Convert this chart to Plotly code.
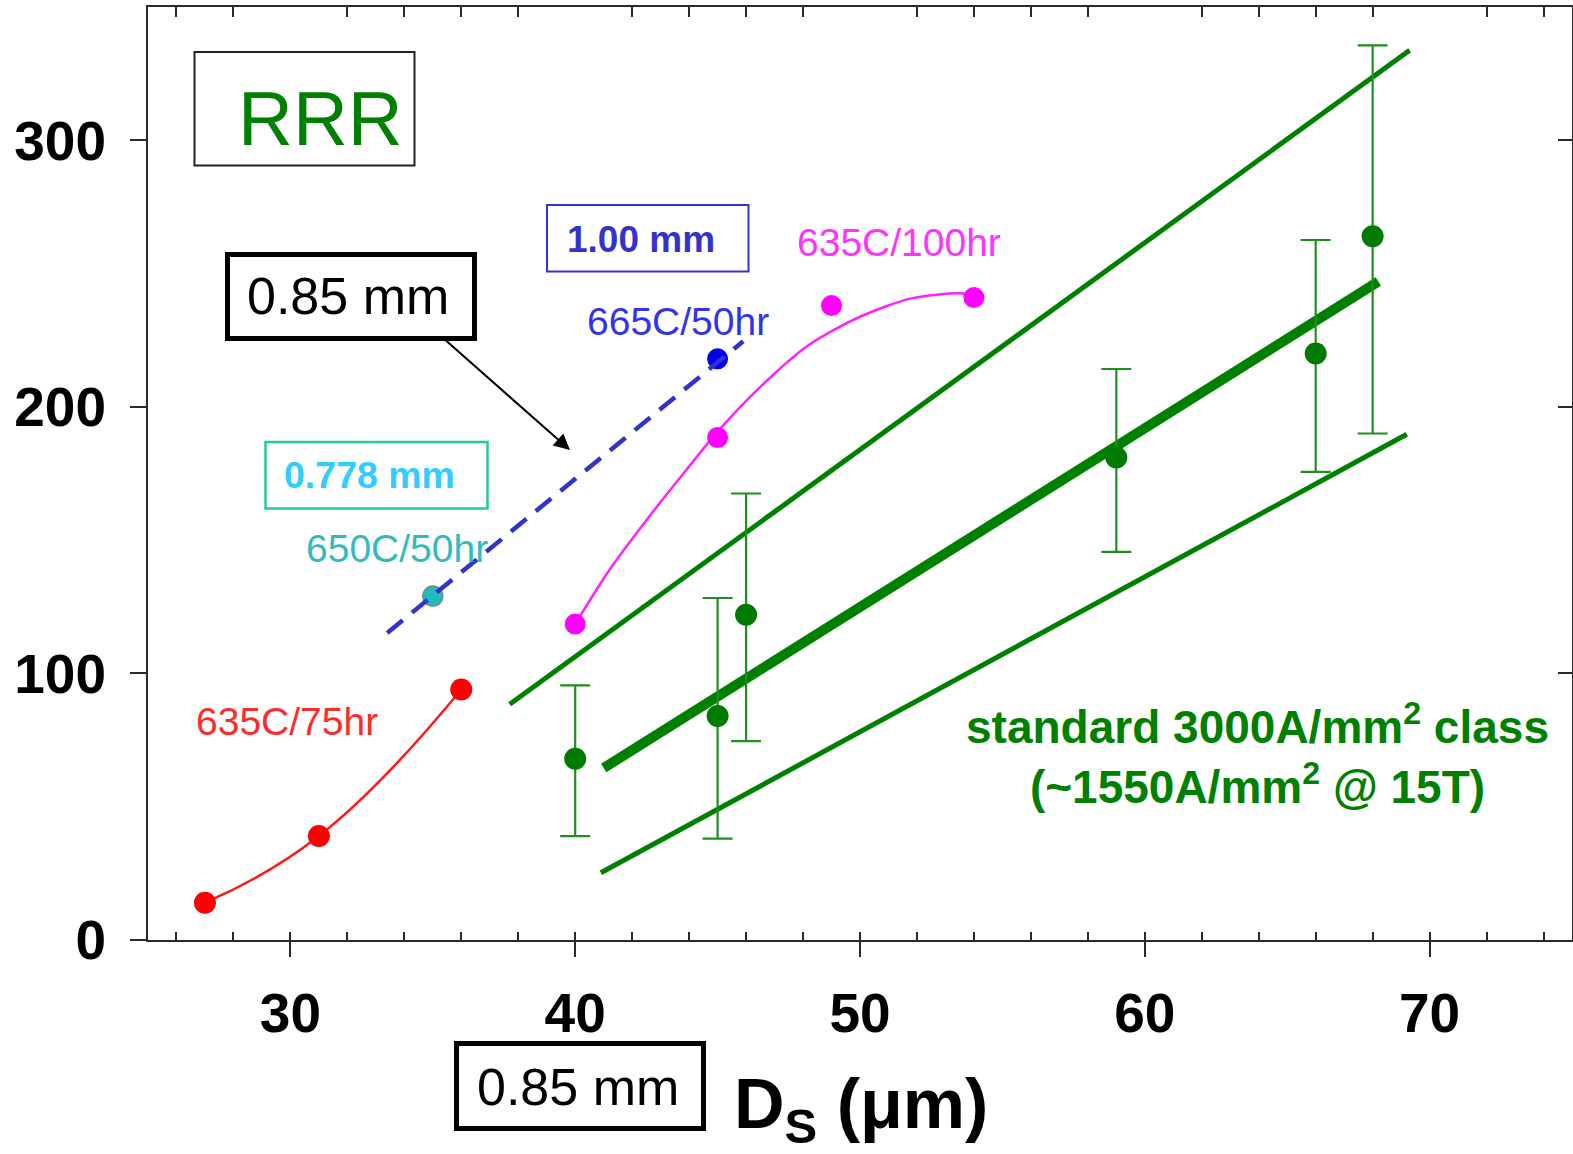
import plotly.graph_objects as go

# ---------------- data ----------------
red_x = [27, 31, 36]
red_y = [14, 39, 94]

cyan_x = [35]
cyan_y = [129]

blue_x = [45]
blue_y = [218]
blue_fit_x = [33.4, 45.9]
blue_fit_y = [115.2, 224.6]

mag_x = [40, 45, 49, 54]
mag_y = [118.5, 188.5, 238, 241]
mag_fit_x = [40, 41.2, 42.5, 43.9, 45, 46.5, 48.2, 50, 51.8, 53.5, 54]
mag_fit_y = [118.5, 138.8, 157.5, 176.3, 190.7, 207.5, 223.2, 233.8, 240.7, 242.6, 242]

green_x = [40, 45, 46, 59, 66, 68]
green_y = [68, 84, 122, 181, 220, 264]
green_err_plus = [27.5, 44.3, 45.5, 33.2, 42.6, 71.6]
green_err_minus = [29, 46, 47.4, 35.4, 44.4, 74]

band_upper_x = [37.7, 69.3]
band_upper_y = [88.4, 333.8]
band_mid_x = [41.0, 68.2]
band_mid_y = [64.5, 247.0]
band_lower_x = [40.9, 69.2]
band_lower_y = [25.2, 189.7]

x_range = [25, 75]
y_range = [0, 350]
top_minor_ticks = [26, 28, 32, 34, 36, 38, 42, 44, 46, 48, 52, 54, 56, 58,
                   62, 64, 66, 68, 72, 74]
right_ticks = [100, 200, 300]

# ---------------- figure ----------------
GREEN = "#008000"
FONT = "Liberation Sans"

fig = go.Figure()

for bx, by, w in [(band_upper_x, band_upper_y, 5),
                  (band_lower_x, band_lower_y, 5),
                  (band_mid_x, band_mid_y, 10)]:
    fig.add_trace(go.Scatter(x=bx, y=by, mode="lines",
                             line=dict(color=GREEN, width=w), hoverinfo="skip"))

fig.add_trace(go.Scatter(
    x=green_x, y=green_y, mode="markers",
    marker=dict(color="#007a00", size=22),
    error_y=dict(type="data", symmetric=False, array=green_err_plus,
                 arrayminus=green_err_minus, color="#1f8f1f",
                 thickness=2.2, width=15)))

fig.add_trace(go.Scatter(x=red_x, y=red_y, mode="lines+markers",
                         line=dict(color="#ff1a1a", width=2.5, shape="spline",
                                   smoothing=1.3),
                         marker=dict(color="#ff0000", size=22)))

fig.add_trace(go.Scatter(x=mag_fit_x, y=mag_fit_y, mode="lines",
                         line=dict(color="#ff22ff", width=2.5, shape="spline",
                                   smoothing=0.8)))
fig.add_trace(go.Scatter(x=mag_x, y=mag_y, mode="markers",
                         marker=dict(color="#ff00ff", size=21)))

fig.add_trace(go.Scatter(x=cyan_x, y=cyan_y, mode="markers",
                         marker=dict(color="#22bbbb", size=20,
                                     line=dict(color="#7a8a8a", width=1.5))))
fig.add_trace(go.Scatter(x=blue_x, y=blue_y, mode="markers",
                         marker=dict(color="#0000ee", size=21)))

fig.add_trace(go.Scatter(x=blue_fit_x, y=blue_fit_y, mode="lines",
                         line=dict(color="#3333cc", width=4.5, dash="20px,12px")))

# dummy trace for the top / right tick axes
fig.add_trace(go.Scatter(x=[None], y=[None], xaxis="x2", yaxis="y2",
                         mode="markers", hoverinfo="skip"))

AX = "#2a2a2a"
fig.update_layout(
    width=1573, height=1154,
    margin=dict(l=148, r=1, t=7, b=214, autoexpand=False),
    plot_bgcolor="white", paper_bgcolor="white",
    showlegend=False,
    xaxis=dict(range=x_range, tickmode="linear", tick0=0, dtick=10,
               automargin=False,
               ticks="outside", ticklen=15, tickwidth=2, tickcolor=AX,
               showline=True, linecolor=AX, linewidth=2, mirror=True,
               showgrid=False, zeroline=False, ticklabelstandoff=9,
               tickfont=dict(family=FONT, size=55, color="black", weight="bold"),
               minor=dict(ticks="inside", ticklen=8, tickwidth=2,
                          tickcolor=AX, dtick=2, tick0=0, showgrid=False)),
    yaxis=dict(range=y_range, tickmode="linear", tick0=0, dtick=100,
               automargin=False,
               ticks="outside", ticklen=16, tickwidth=2, tickcolor=AX,
               showline=True, linecolor=AX, linewidth=2, mirror=True,
               showgrid=False, zeroline=False, ticklabelstandoff=13,
               tickfont=dict(family=FONT, size=55, color="black", weight="bold")),
    xaxis2=dict(range=x_range, overlaying="x", side="top", anchor="y",
                automargin=False,
                tickmode="array", tickvals=top_minor_ticks, ticks="inside",
                ticklen=10, tickwidth=2, tickcolor=AX, showticklabels=False,
                showgrid=False, zeroline=False, showline=False),
    yaxis2=dict(range=y_range, overlaying="y", side="right", anchor="x",
                automargin=False,
                tickmode="array", tickvals=right_ticks, ticks="inside",
                ticklen=14, tickwidth=2, tickcolor=AX, showticklabels=False,
                showgrid=False, zeroline=False, showline=False),
)


def PX(xp):
    return (xp - 148) / 1424


def PY(yp):
    return (940 - yp) / 933


def text(xp, yp, s, size, color, bold=False):
    fig.add_annotation(x=PX(xp), y=PY(yp), xref="paper", yref="paper",
                       text=s, showarrow=False, xanchor="center", yanchor="middle",
                       font=dict(family=FONT, size=size, color=color,
                                 weight="bold" if bold else "normal"))


def box(x0, y0, x1, y1, color, w):
    fig.add_shape(type="rect", xref="paper", yref="paper",
                  x0=PX(x0), x1=PX(x1), y0=PY(y0), y1=PY(y1),
                  line=dict(color=color, width=w), fillcolor="rgba(0,0,0,0)")


box(194.5, 52, 414.5, 165.5, "#222222", 2)
text(320, 118, "RRR", 76, GREEN)

box(227.5, 254.5, 474.5, 338.5, "black", 5)
text(348, 296, "0.85 mm", 52, "black")

box(547, 205, 748.5, 271.5, "#3333cc", 2)
text(641, 239, "1.00 mm", 37, "#3333cc", bold=True)

box(265.5, 442, 487.5, 508.5, "#22cc99", 2.5)
text(369, 475, "0.778 mm", 37.5, "#33ccff", bold=True)

text(678, 322, "665C/50hr", 39, "#3333ee")
text(899, 243, "635C/100hr", 39, "#ff33ff")
text(397, 548, "650C/50hr", 39, "#33bbbb")
text(287, 721, "635C/75hr", 39, "#ff2a2a")

text(1257, 754, "standard 3000A/mm<sup>2</sup> class<br>(~1550A/mm<sup>2</sup> @ 15T)",
     46, GREEN, bold=True)

box(456.5, 1043.5, 703.5, 1128.5, "black", 5)
text(578, 1087, "0.85 mm", 52, "black")

text(861, 1109, "D<sub>S</sub> (μm)", 70, "black", bold=True)

fig.add_annotation(x=PX(570), y=PY(450), ax=443 - 570, ay=338 - 450,
                   xref="paper", yref="paper", axref="pixel", ayref="pixel",
                   text="", showarrow=True, arrowhead=2, arrowsize=1.6,
                   arrowwidth=2, arrowcolor="black")

fig.write_html("out.html", config={"displayModeBar": False},
               post_script="document.body.style.margin='0';"
                           "document.body.style.overflow='hidden';")
